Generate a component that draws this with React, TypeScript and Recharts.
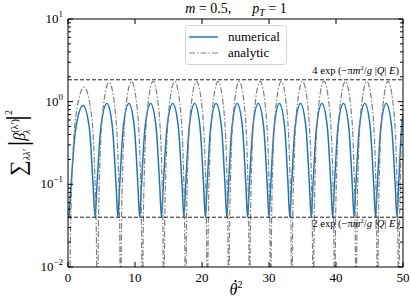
import React from "react";
import { LineChart, Line, XAxis, YAxis, ReferenceLine, Legend } from "recharts";

// numerical result: arches (x = theta-dot squared)
const numericalTheta = [
  0.15, 0.45, 1.15, 2.25, 3.2, 3.75,
  4.05, 4.32, 4.92, 5.8, 6.62, 7.18,
  7.45, 7.71, 8.26, 9.08, 9.89, 10.44,
  10.7, 10.96, 11.51, 12.33, 13.14, 13.69,
  13.95, 14.22, 14.79, 15.63, 16.46, 17.03,
  17.3, 17.56, 18.1, 18.9, 19.7, 20.24,
  20.5, 20.76, 21.3, 22.1, 22.9, 23.44,
  23.7, 23.95, 24.48, 25.25, 26.03, 26.55,
  26.8, 27.06, 27.6, 28.4, 29.2, 29.74,
  30.0, 30.25, 30.78, 31.55, 32.33, 32.85,
  33.1, 33.36, 33.9, 34.7, 35.5, 36.04,
  36.3, 36.56, 37.1, 37.9, 38.7, 39.24,
  39.5, 39.76, 40.3, 41.1, 41.9, 42.44,
  42.7, 42.96, 43.5, 44.3, 45.1, 45.64,
  45.9, 46.16, 46.7, 47.5, 48.3, 48.84,
  49.1, 49.35, 49.8, 50,
];
const numericalValue = [
  0.04, 0.096, 0.47, 0.9, 0.47, 0.096,
  0.04, 0.096, 0.5, 0.95, 0.5, 0.096,
  0.04, 0.096, 0.5, 0.95, 0.5, 0.096,
  0.04, 0.096, 0.5, 0.95, 0.5, 0.096,
  0.04, 0.096, 0.5, 0.95, 0.5, 0.096,
  0.04, 0.096, 0.5, 0.95, 0.5, 0.096,
  0.04, 0.096, 0.5, 0.95, 0.5, 0.096,
  0.04, 0.096, 0.5, 0.95, 0.5, 0.096,
  0.04, 0.096, 0.5, 0.95, 0.5, 0.096,
  0.04, 0.096, 0.5, 0.95, 0.5, 0.096,
  0.04, 0.096, 0.5, 0.95, 0.5, 0.096,
  0.04, 0.096, 0.5, 0.95, 0.5, 0.096,
  0.04, 0.096, 0.5, 0.95, 0.5, 0.096,
  0.04, 0.096, 0.5, 0.95, 0.5, 0.096,
  0.04, 0.096, 0.5, 0.95, 0.5, 0.096,
  0.04, 0.1, 0.5, 0.7,
];

// analytic result: dips run below the axis floor
const analyticTheta = [
  0.2, 0.33, 0.54, 1.25, 2.4, 3.45, 4.06, 4.27,
  4.4, 4.5, 4.68, 5.26, 6.13, 6.99, 7.57, 7.75,
  7.85, 7.95, 8.11, 8.66, 9.48, 10.29, 10.84, 11.0,
  11.1, 11.2, 11.36, 11.9, 12.7, 13.5, 14.04, 14.2,
  14.3, 14.4, 14.56, 15.11, 15.93, 16.74, 17.29, 17.45,
  17.55, 17.65, 17.81, 18.36, 19.18, 19.99, 20.54, 20.7,
  20.8, 20.9, 21.06, 21.6, 22.4, 23.2, 23.74, 23.9,
  24.0, 24.09, 24.25, 24.78, 25.55, 26.33, 26.85, 27.01,
  27.1, 27.19, 27.35, 27.89, 28.68, 29.46, 30.0, 30.16,
  30.25, 30.34, 30.5, 31.04, 31.83, 32.61, 33.15, 33.31,
  33.4, 33.5, 33.66, 34.2, 35.0, 35.8, 36.34, 36.5,
  36.6, 36.7, 36.86, 37.4, 38.2, 39.0, 39.54, 39.7,
  39.8, 39.9, 40.06, 40.6, 41.4, 42.2, 42.74, 42.9,
  43.0, 43.1, 43.26, 43.8, 44.6, 45.4, 45.94, 46.1,
  46.2, 46.29, 46.45, 46.99, 47.78, 48.56, 49.1, 49.26,
  49.35, 49.45, 49.6, 50,
];
const analyticValue = [
  0.0003, 0.013, 0.09, 0.75, 1.5, 0.75, 0.09, 0.013,
  0.0003, 0.015, 0.11, 0.86, 1.72, 0.86, 0.11, 0.015,
  0.0003, 0.015, 0.11, 0.88, 1.76, 0.88, 0.11, 0.015,
  0.0003, 0.015, 0.11, 0.88, 1.76, 0.88, 0.11, 0.015,
  0.0003, 0.015, 0.11, 0.88, 1.76, 0.88, 0.11, 0.015,
  0.0003, 0.015, 0.11, 0.88, 1.76, 0.88, 0.11, 0.015,
  0.0003, 0.015, 0.11, 0.88, 1.76, 0.88, 0.11, 0.015,
  0.0003, 0.015, 0.11, 0.88, 1.76, 0.88, 0.11, 0.015,
  0.0003, 0.015, 0.11, 0.88, 1.76, 0.88, 0.11, 0.015,
  0.0003, 0.015, 0.11, 0.88, 1.76, 0.88, 0.11, 0.015,
  0.0003, 0.015, 0.11, 0.88, 1.76, 0.88, 0.11, 0.015,
  0.0003, 0.015, 0.11, 0.88, 1.76, 0.88, 0.11, 0.015,
  0.0003, 0.015, 0.11, 0.88, 1.76, 0.88, 0.11, 0.015,
  0.0003, 0.015, 0.11, 0.88, 1.76, 0.88, 0.11, 0.015,
  0.0003, 0.015, 0.11, 0.88, 1.76, 0.88, 0.11, 0.015,
  0.0003, 0.015, 0.11, 0.7,
];

const xTicks = [0, 10, 20, 30, 40, 50];
const yDecades = [0.01, 0.1, 1, 10];
const yMinorSteps = [2, 3, 4, 5, 6, 7, 8, 9];
const upperBound = 1.84; // 4 exp(...)
const lowerBound = 0.04; // 2 exp(...)

const numerical = numericalTheta.map((x, i) => ({ x, y: numericalValue[i] }));
const analytic = analyticTheta.map((x, i) => ({ x, y: analyticValue[i] }));
const yTicks = yDecades.flatMap((d, i) =>
  i === yDecades.length - 1 ? [d] : [d, ...yMinorSteps.map((s) => +(s * d).toPrecision(3))]
);

const SERIF = "'Liberation Serif', 'DejaVu Serif', serif";
const BLUE = "#1f77b4";
const GRAY = "#808080";
const DASHDOT = "6 2 1.5 2";
const GAP = 4;

const isMajor = (v: number) => Math.abs(Math.log10(v) - Math.round(Math.log10(v))) < 1e-6;
const expLabel = (v: number) => {
  const e = Math.round(Math.log10(v));
  return e < 0 ? "\u2212" + Math.abs(e) : String(e);
};

function BottomTick({ x, y, payload }: any) {
  const axisY = y - GAP;
  return (
    <g>
      <line x1={x} x2={x} y1={axisY} y2={axisY - 5} stroke="#000" />
      <text x={x} y={axisY + 15} textAnchor="middle" fontSize={13} fontFamily={SERIF}>
        {payload.value}
      </text>
    </g>
  );
}

function TopTick({ x, y }: any) {
  const axisY = y + GAP;
  return <line x1={x} x2={x} y1={axisY} y2={axisY + 5} stroke="#000" />;
}

function LeftTick({ x, y, payload }: any) {
  const axisX = x + GAP;
  const major = isMajor(payload.value);
  return (
    <g>
      <line x1={axisX} x2={axisX + (major ? 5 : 3)} y1={y} y2={y} stroke="#000" />
      {major && (
        <text x={axisX - 5} y={y + 4} textAnchor="end" fontSize={13} fontFamily={SERIF}>
          10<tspan dy={-6} fontSize={9}>{expLabel(payload.value)}</tspan>
        </text>
      )}
    </g>
  );
}

function RightTick({ x, y, payload }: any) {
  const axisX = x - GAP;
  const major = isMajor(payload.value);
  return <line x1={axisX} x2={axisX - (major ? 5 : 3)} y1={y} y2={y} stroke="#000" />;
}

function BoundLabel({ viewBox, factor, below }: any) {
  const vb = viewBox || { x: 0, y: 0, width: 0 };
  const x = vb.x + vb.width - 4;
  const y = below ? vb.y + 10 : vb.y - 6;
  return (
    <text x={x} y={y} textAnchor="end" fontSize={10.5} fontFamily={SERIF}>
      {factor} exp (−π<tspan fontStyle="italic">m</tspan>
      <tspan dy={-4} fontSize={7}>2</tspan>
      <tspan dy={4}>/</tspan>
      <tspan fontStyle="italic">g</tspan> |<tspan fontStyle="italic">Q</tspan>|{" "}
      <tspan fontStyle="italic">E</tspan>)
    </text>
  );
}

function LegendBox() {
  return (
    <svg width={102} height={40} style={{ display: "block" }}>
      <rect x={0.5} y={0.5} width={101} height={39} rx={3} fill="#fff" fillOpacity={0.8} stroke="#d4d4d4" />
      <line x1={4} x2={33} y1={12} y2={12} stroke={BLUE} strokeWidth={1.5} />
      <text x={43} y={16} fontSize={13} fontFamily={SERIF}>numerical</text>
      <line x1={4} x2={33} y1={28} y2={28} stroke={GRAY} strokeWidth={1.2} strokeDasharray={DASHDOT} />
      <text x={43} y={32} fontSize={13} fontFamily={SERIF}>analytic</text>
    </svg>
  );
}

export default function App() {
  return (
    <div style={{ position: "absolute", left: 0, top: 0, width: 411, height: 300, background: "#fff" }}>
      <LineChart width={411} height={300} data={numerical} margin={{ top: 9, right: 0, bottom: 0, left: 0 }}>
        <XAxis
          dataKey="x"
          type="number"
          domain={[0, 50]}
          ticks={xTicks}
          allowDataOverflow
          height={33}
          tickSize={0}
          tickMargin={GAP}
          tick={<BottomTick />}
          axisLine={{ stroke: "#000" }}
          interval={0}
        />
        <XAxis
          xAxisId="top"
          orientation="top"
          dataKey="x"
          type="number"
          domain={[0, 50]}
          ticks={xTicks}
          allowDataOverflow
          height={10}
          tickSize={0}
          tickMargin={GAP}
          tick={<TopTick />}
          axisLine={{ stroke: "#000" }}
          interval={0}
        />
        <YAxis
          type="number"
          scale="log"
          domain={[0.01, 10]}
          ticks={yTicks}
          allowDataOverflow
          width={68}
          tickSize={0}
          tickMargin={GAP}
          tick={<LeftTick />}
          axisLine={{ stroke: "#000" }}
          interval={0}
        />
        <YAxis
          yAxisId="right"
          orientation="right"
          type="number"
          scale="log"
          domain={[0.01, 10]}
          ticks={yTicks}
          allowDataOverflow
          width={8}
          tickSize={0}
          tickMargin={GAP}
          tick={<RightTick />}
          axisLine={{ stroke: "#000" }}
          interval={0}
        />
        <Line
          data={numerical}
          dataKey="y"
          type="monotone"
          stroke={BLUE}
          strokeWidth={1.5}
          dot={false}
          isAnimationActive={false}
        />
        <Line
          data={analytic}
          dataKey="y"
          xAxisId="top"
          yAxisId="right"
          type="monotone"
          stroke={GRAY}
          strokeWidth={1.2}
          strokeDasharray={DASHDOT}
          dot={false}
          isAnimationActive={false}
        />
        <ReferenceLine
          y={upperBound}
          stroke="#222"
          strokeDasharray="4 2"
          label={<BoundLabel factor="4" />}
        />
        <ReferenceLine
          y={lowerBound}
          stroke="#222"
          strokeDasharray="4 2"
          label={<BoundLabel factor="2" below />}
        />
        <Legend
          layout="horizontal"
          verticalAlign="middle"
          align="center"
          content={<LegendBox />}
          wrapperStyle={{ left: 185, top: 25, width: 102, height: 40 }}
        />
      </LineChart>
      <svg
        width={411}
        height={300}
        style={{ position: "absolute", left: 0, top: 0, pointerEvents: "none" }}
      >
        <text x={236} y={13} textAnchor="middle" fontSize={14} fontFamily={SERIF}>
          <tspan fontStyle="italic">m</tspan> = 0.5,{"\u2003\u2002"}
          <tspan fontStyle="italic">p</tspan>
          <tspan dy={3} fontSize={10} fontStyle="italic">T</tspan>
          <tspan dy={-3}> = 1</tspan>
        </text>
        <text x={236} y={295} textAnchor="middle" fontSize={16} fontFamily={SERIF} fontStyle="italic">
          θ<tspan dy={-7} fontSize={10} fontStyle="normal">2</tspan>
        </text>
        {/* dot accent over theta */}
        <circle cx={235.5} cy={281} r={1.1} fill="#000" />
        <text transform="translate(25,143) rotate(-90)" textAnchor="middle" fontFamily={SERIF} fontSize={16}>
          <tspan fontSize={22}>∑</tspan>
          <tspan dy={5} fontSize={10} fontStyle="italic">λλ′</tspan>
          <tspan dx={3} dy={-3} fontSize={28}>|</tspan>
          <tspan dy={-2} fontStyle="italic">β</tspan>
          <tspan dy={-7} fontSize={10}>(λ′)</tspan>
          <tspan dx={-15} dy={12} fontSize={10} fontStyle="italic">λ</tspan>
          <tspan dx={9} dy={-5} fontSize={28}>|</tspan>
          <tspan dy={-13} fontSize={10}>2</tspan>
        </text>
      </svg>
    </div>
  );
}
